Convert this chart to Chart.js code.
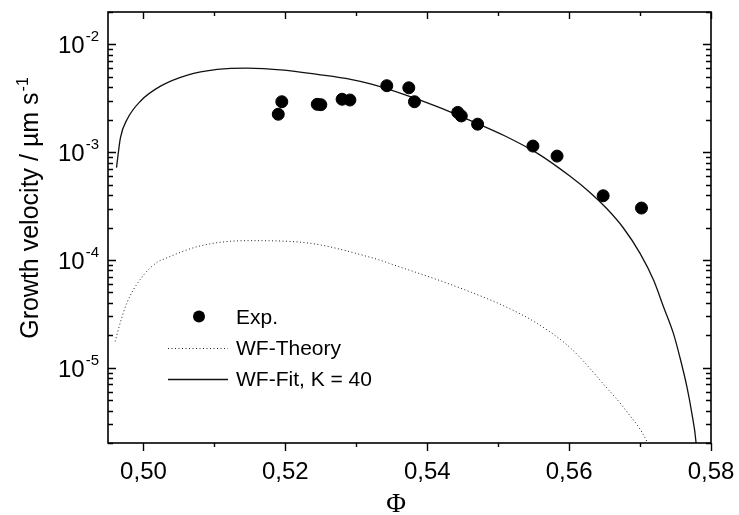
<!DOCTYPE html>
<html>
<head>
<meta charset="utf-8">
<script src="https://cdn.jsdelivr.net/npm/chart.js@4.4.1/dist/chart.umd.min.js"></script>
<style>
  html, body { margin: 0; padding: 0; background: #fff; }
  #wrap { width: 739px; height: 515px; }
</style>
</head>
<body>
<div id="wrap"><canvas id="growth-chart" width="739" height="515"></canvas></div>
<script>
// experimental points (Phi, growth velocity in um/s)
const expPhi = [0.5190, 0.5195, 0.5245, 0.5250, 0.5280, 0.5291, 0.5343, 0.5374, 0.5382,
                0.5443, 0.5448, 0.5471, 0.5549, 0.5583, 0.5648, 0.5702];
const expVel = [2.25e-3, 2.94e-3, 2.78e-3, 2.76e-3, 3.10e-3, 3.05e-3, 4.14e-3, 3.96e-3, 2.94e-3,
                2.34e-3, 2.17e-3, 1.82e-3, 1.14e-3, 9.2e-4, 3.94e-4, 3.03e-4];

// WF-Theory curve
const theoryPhi = [0.4960, 0.49675, 0.4977, 0.4996, 0.5019, 0.5029, 0.5080, 0.5146, 0.5222, 0.5320,
                   0.5367, 0.5415, 0.5462, 0.5509, 0.5556, 0.5603, 0.5650, 0.5678, 0.5710, 0.5713];
const theoryVel = [1.75e-5, 2.64e-5, 4.05e-5, 6.67e-5, 9.5e-5, 1.02e-4, 1.35e-4, 1.51e-4, 1.46e-4, 1.057e-4,
                   8.36e-5, 6.53e-5, 5.01e-5, 3.72e-5, 2.55e-5, 1.50e-5, 6.86e-6, 4.17e-6, 2.04e-6, 1.8e-6];

// WF-Fit curve, K = 40
const fitPhi = [0.4962, 0.49675, 0.4977, 0.4996, 0.5024, 0.5062, 0.5104, 0.5146, 0.5198, 0.5245,
                0.5292, 0.5320, 0.5367, 0.5415, 0.5462, 0.5509, 0.5556, 0.5601, 0.5629, 0.5653,
                0.5676, 0.5700, 0.5719, 0.5733, 0.5747, 0.5756, 0.5766, 0.5773, 0.5779, 0.5780];
const fitVel = [7.2e-4, 1.36e-3, 2.02e-3, 2.99e-3, 4.1e-3, 5.2e-3, 5.86e-3, 6.04e-3, 5.78e-3, 5.27e-3,
                4.74e-3, 4.3e-3, 3.44e-3, 2.63e-3, 1.95e-3, 1.42e-3, 9.7e-4, 6.0e-4, 4.25e-4, 3.0e-4,
                2.0e-4, 1.15e-4, 6.5e-5, 3.68e-5, 2.08e-5, 1.26e-5, 6.66e-6, 3.77e-6, 1.99e-6, 1.55e-6];

const seriesLabels = ['Exp.', 'WF-Theory', 'WF-Fit, K = 40'];

// axis ticks
const xMajorTicks = [0.50, 0.52, 0.54, 0.56, 0.58];
const xTickLabels = ['0,50', '0,52', '0,54', '0,56', '0,58'];
const xMinorTicks = [0.51, 0.53, 0.55, 0.57];
const yDecadeExps = [-2, -3, -4, -5];

const xTitle = '\u03A6';
const yTitle = 'Growth velocity / \u00B5m s';
const yTitleSup = '-1';

const toPoints = (xs, ys) => xs.map((x, i) => ({ x: x, y: ys[i] }));

const SANS = '"Liberation Sans", Arial, Helvetica, sans-serif';

// frame, inward/outward ticks, tick labels, titles and legend
const axesPlugin = {
    id: 'axesPlugin',
    afterDraw(chart) {
        const { ctx, chartArea: a, scales } = chart;
        const xs = scales.x, ys = scales.y;
        ctx.save();
        ctx.strokeStyle = '#000';
        ctx.fillStyle = '#000';

        // frame
        ctx.lineWidth = 1.6;
        ctx.strokeRect(a.left, a.top, a.right - a.left, a.bottom - a.top);

        ctx.lineWidth = 1.4;
        ctx.beginPath();
        // x ticks: bottom outward, top inward
        xMajorTicks.forEach(v => {
            const px = Math.round(xs.getPixelForValue(v)) + 0.5;
            ctx.moveTo(px, a.bottom); ctx.lineTo(px, a.bottom + 8);
            ctx.moveTo(px, a.top); ctx.lineTo(px, a.top + 7);
        });
        xMinorTicks.forEach(v => {
            const px = Math.round(xs.getPixelForValue(v)) + 0.5;
            ctx.moveTo(px, a.bottom); ctx.lineTo(px, a.bottom + 4);
            ctx.moveTo(px, a.top); ctx.lineTo(px, a.top + 4);
        });
        // y ticks: left and right, both inward
        for (let e = -6; e <= -1; e++) {
            for (let m = 1; m <= 9; m++) {
                const v = m * Math.pow(10, e);
                if (v < ys.min || v > ys.max) continue;
                const py = Math.round(ys.getPixelForValue(v)) + 0.5;
                const len = m === 1 ? 8 : 5;
                ctx.moveTo(a.left, py); ctx.lineTo(a.left + len, py);
                ctx.moveTo(a.right, py); ctx.lineTo(a.right - len, py);
            }
        }
        ctx.stroke();

        // x tick labels
        ctx.font = '24px ' + SANS;
        ctx.textAlign = 'center';
        ctx.textBaseline = 'alphabetic';
        xMajorTicks.forEach((v, i) => {
            ctx.fillText(xTickLabels[i], xs.getPixelForValue(v), a.bottom + 36);
        });

        // y tick labels 10^n
        ctx.textAlign = 'left';
        yDecadeExps.forEach(e => {
            const py = ys.getPixelForValue(Math.pow(10, e));
            const sup = '-' + Math.abs(e);
            ctx.font = '24px ' + SANS;
            const wBase = ctx.measureText('10').width;
            ctx.font = '15px ' + SANS;
            const wSup = ctx.measureText(sup).width;
            const x0 = a.left - 10 - wBase - wSup;
            ctx.font = '24px ' + SANS;
            ctx.fillText('10', x0, py + 9);
            ctx.font = '15px ' + SANS;
            ctx.fillText(sup, x0 + wBase + 1, py - 3);
        });

        // x title
        ctx.font = '27px "Liberation Serif", "Times New Roman", serif';
        ctx.textAlign = 'center';
        ctx.fillText(xTitle, 396, 512);

        // y title, rotated
        ctx.save();
        ctx.translate(38, 208);
        ctx.rotate(-Math.PI / 2);
        ctx.font = '25px ' + SANS;
        const wt = ctx.measureText(yTitle).width;
        ctx.font = '16px ' + SANS;
        const ws = ctx.measureText(yTitleSup).width;
        const start = -(wt + ws + 1) / 2;
        ctx.textAlign = 'left';
        ctx.font = '25px ' + SANS;
        ctx.fillText(yTitle, start, 0);
        ctx.font = '16px ' + SANS;
        ctx.fillText(yTitleSup, start + wt + 1, -10);
        ctx.restore();

        // legend
        const ds = chart.data.datasets;
        ctx.font = '21px ' + SANS;
        ctx.textAlign = 'left';
        ctx.beginPath();
        ctx.arc(199, 316.5, 6, 0, Math.PI * 2);
        ctx.fillStyle = ds[0].backgroundColor;
        ctx.fill();
        ctx.fillStyle = '#000';
        ctx.fillText(ds[0].label, 236, 323.5);

        ctx.lineWidth = ds[1].borderWidth;
        ctx.strokeStyle = ds[1].borderColor;
        ctx.setLineDash(ds[1].borderDash);
        ctx.beginPath();
        ctx.moveTo(168, 348.5); ctx.lineTo(228, 348.5);
        ctx.stroke();
        ctx.fillText(ds[1].label, 236, 355);

        ctx.lineWidth = ds[2].borderWidth;
        ctx.strokeStyle = ds[2].borderColor;
        ctx.setLineDash([]);
        ctx.beginPath();
        ctx.moveTo(168, 379.5); ctx.lineTo(228, 379.5);
        ctx.stroke();
        ctx.fillText(ds[2].label, 236, 386);

        ctx.restore();
    }
};

const ctx = document.getElementById('growth-chart').getContext('2d');

const growthChart = new Chart(ctx, {
    type: 'scatter',
    data: {
        datasets: [
            {
                label: seriesLabels[0],
                data: toPoints(expPhi, expVel),
                backgroundColor: '#000',
                borderColor: '#000',
                pointRadius: 6,
                pointHoverRadius: 6,
                showLine: false,
                order: 0
            },
            {
                label: seriesLabels[1],
                data: toPoints(theoryPhi, theoryVel),
                showLine: true,
                borderColor: '#222',
                borderWidth: 1,
                borderDash: [1, 2.5],
                pointRadius: 0,
                cubicInterpolationMode: 'monotone',
                order: 2
            },
            {
                label: seriesLabels[2],
                data: toPoints(fitPhi, fitVel),
                showLine: true,
                borderColor: '#111',
                borderWidth: 1.3,
                pointRadius: 0,
                cubicInterpolationMode: 'monotone',
                order: 1
            }
        ]
    },
    options: {
        responsive: false,
        animation: false,
        devicePixelRatio: 1,
        layout: {
            padding: { left: 108, right: 28, top: 12, bottom: 72 }
        },
        scales: {
            x: { type: 'linear', min: 0.495, max: 0.58, display: false },
            y: { type: 'logarithmic', min: 2e-6, max: 2e-2, display: false }
        },
        plugins: {
            legend: { display: false },
            tooltip: { enabled: false }
        }
    },
    plugins: [axesPlugin]
});
</script>
</body>
</html>
